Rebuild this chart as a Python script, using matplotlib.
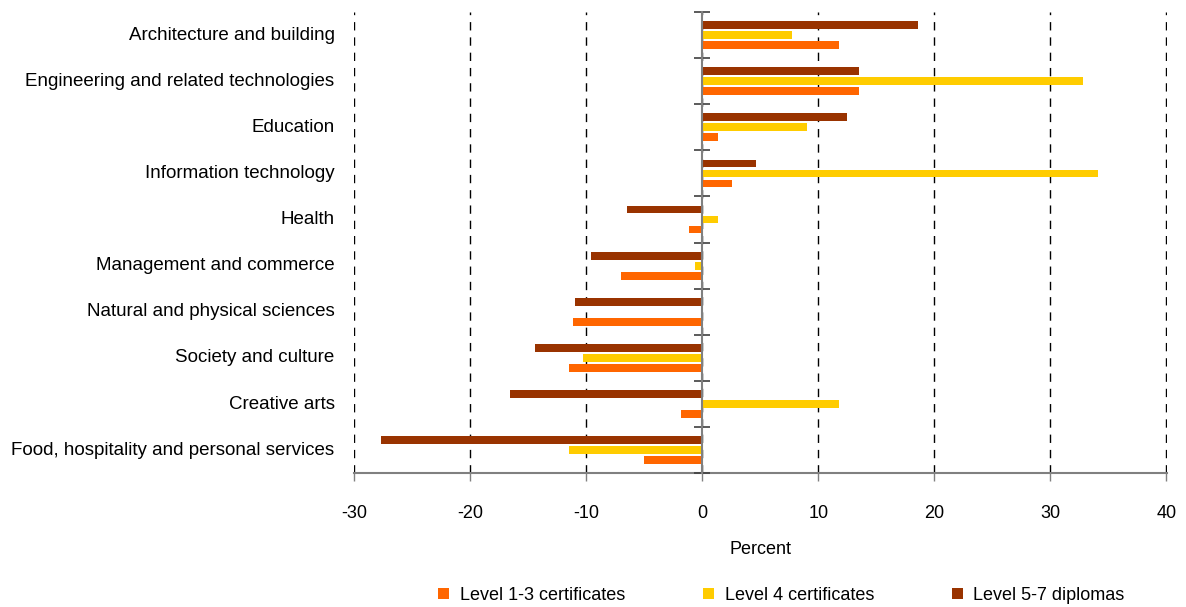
import matplotlib
matplotlib.use("Agg")
import matplotlib.pyplot as plt
import numpy as np

# categories, top to bottom
categories = [
    "Architecture and building",
    "Engineering and related technologies",
    "Education",
    "Information technology",
    "Health",
    "Management and commerce",
    "Natural and physical sciences",
    "Society and culture",
    "Creative arts",
    "Food, hospitality and personal services",
]

# percent change by qualification level
level_1_3 = [11.8, 13.5, 1.4, 2.6, -1.1, -7.0, -11.1, -11.5, -1.8, -5.0]
level_4 = [7.7, 32.8, 9.0, 34.1, 1.4, -0.6, 0.0, -10.3, 11.8, -11.5]
level_5_7 = [18.6, 13.5, 12.5, 4.6, -6.5, -9.6, -11.0, -14.4, -16.6, -27.7]

series_names = ["Level 1-3 certificates", "Level 4 certificates", "Level 5-7 diplomas"]
series_colors = ["#FF6600", "#FFCC00", "#993300"]

x_ticks = [-30, -20, -10, 0, 10, 20, 30, 40]

plt.rcParams['font.family'] = ['Liberation Sans', 'DejaVu Sans']

fig = plt.figure(figsize=(11.86, 6.07), dpi=100)
ax = fig.add_axes([0.2985, 0.2208, 0.6855, 0.7592])

y = np.arange(len(categories))
pitch = 0.217
height = 0.17

# bottom to top inside each category: 1-3, 4, 5-7 (axis is inverted)
for vals, name, col, off in zip([level_1_3, level_4, level_5_7], series_names,
                                series_colors, [pitch, 0, -pitch]):
    ax.barh(y + off, vals, height=height, color=col, label=name, zorder=3)

ax.set_xlim(-30, 40.05)
ax.set_ylim(len(categories) - 0.5, -0.5)
ax.set_xticks(x_ticks)
ax.set_xticklabels([str(t) for t in x_ticks], fontsize=13)
ax.set_yticks(y - 0.04)
ax.set_yticklabels(categories, fontsize=13.5)
ax.tick_params(axis='y', length=0, pad=14)
ax.tick_params(axis='x', direction='out', length=6, width=1, color='#808080', pad=17)

ax.grid(axis='x', color='black', linestyle=(0, (6, 5)), linewidth=1, zorder=0)
ax.set_axisbelow(True)

for s in ['top', 'right', 'left']:
    ax.spines[s].set_visible(False)
ax.spines['bottom'].set_color('#808080')
ax.spines['bottom'].set_linewidth(1.5)

# vertical axis at zero with category separator ticks
zero_pos = (0 - x_ticks[0]) / (40.05 - x_ticks[0])
sec = ax.secondary_yaxis(zero_pos)
sec.set_yticks(np.arange(len(categories) + 1) - 0.5)
sec.set_yticklabels([])
sec.tick_params(direction='inout', length=12, width=1.2, color='#404040')
sec.spines['left'].set_color('#808080')
sec.spines['left'].set_linewidth(1.5)
sec.set_zorder(4)

ax.set_xlabel("Percent", fontsize=13, labelpad=14)

handles, labels = ax.get_legend_handles_labels()
fig.legend(handles, labels, loc='lower center', bbox_to_anchor=(0.659, -0.022),
           ncol=3, frameon=False, fontsize=13, handlelength=0.6, handleheight=0.6,
           handletextpad=0.6, columnspacing=4.3)

fig.savefig("out.png", dpi=100)
